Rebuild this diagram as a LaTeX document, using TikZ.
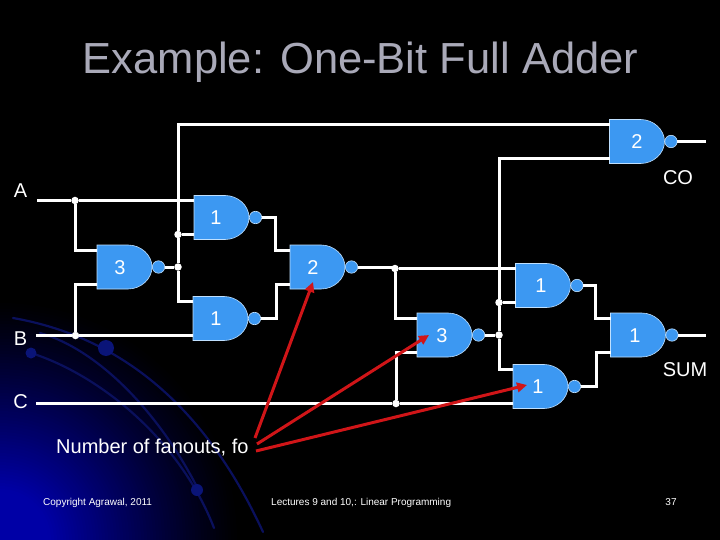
\documentclass[tikz,border=0pt]{standalone}
\usepackage{fontspec}
\setmainfont{Liberation Sans}
\usetikzlibrary{arrows.meta}
\definecolor{gatefill}{HTML}{3C98F2}
\definecolor{gateedge}{HTML}{BFE0FF}
\definecolor{titlegray}{HTML}{A9A9B8}
\definecolor{arcblue}{HTML}{0A105C}
\definecolor{dotblue}{HTML}{0A1478}
\definecolor{redarrow}{HTML}{D01518}
\definecolor{glow}{HTML}{0000A6}
\tikzset{
  wire/.style={draw=white,line width=3pt},
  junction/.style={circle,fill=white,draw=none,minimum size=7.5pt,inner sep=0pt},
  gatebody/.style={fill=gatefill,draw=gateedge,line width=0.6pt},
  gatenum/.style={text=white,font=\fontsize{20}{24}\selectfont,inner sep=0pt},
  sig/.style={text=white,font=\fontsize{20}{24}\selectfont,inner sep=0pt},
  foot/.style={text=white,font=\fontsize{10}{12}\selectfont,inner sep=0pt},
  fanout/.style={draw=redarrow,line width=3pt,-{Triangle[length=10pt,width=9.5pt]}},
  bgarc/.style={draw=arcblue,line width=2.2pt,line cap=round},
}
% name, left x, centre y, label x, label
\newcommand{\nandgate}[5]{%
  \path[gatebody] (#2,#3-22) -- (#2+31,#3-22)
    .. controls (#2+44,#3-22) and (#2+55,#3-12) .. (#2+55,#3)
    .. controls (#2+55,#3+12) and (#2+44,#3+22) .. (#2+31,#3+22)
    -- (#2,#3+22) -- cycle;
  \path[gatebody] (#2+61.5,#3) circle [radius=6.2pt];
  \coordinate (#1-a) at (#2,#3-17);
  \coordinate (#1-b) at (#2,#3+17);
  \coordinate (#1-o) at (#2+67.5,#3);
  \node[gatenum] (#1) at (#4,#3+0.5) {#5};
}
\begin{document}
\begin{tikzpicture}[x=1pt,y=-1pt]
\useasboundingbox (0,0) rectangle (720,540);
\fill[black] (0,0) rectangle (720,540);
\begin{scope}
  \clip (0,0) rectangle (720,540);
  \foreach \r in {240,237,...,3} {
    \pgfmathsetmacro{\p}{100*min(1,(240-\r)/190)^1.15}
    \fill[glow!\p!black] (0,540) circle [radius=\r pt];
  }
  \path[bgarc] (13,318) .. controls (110,335) and (200,395) .. (263,532);
  \path[bgarc] (40,333) .. controls (100,350) and (160,415) .. (197,487);
  \path[bgarc] (31,353) .. controls (100,375) and (180,440) .. (214,528);
  \fill[dotblue] (106,348) circle [radius=8pt];
  \fill[dotblue] (31,353) circle [radius=5.5pt];
  \fill[dotblue] (197,490) circle [radius=6pt];
\end{scope}

\node[text=titlegray,font=\fontsize{43.5}{50}\selectfont,inner sep=0pt,anchor=base] (title) at (360.5,73.5) {Example: One-Bit Full Adder};

\nandgate{g3}{97}{267}{120}{3}
\nandgate{g1t}{194}{217.5}{216}{1}
\nandgate{g1b}{193}{318.5}{216}{1}
\nandgate{g2m}{290}{267}{313}{2}
\nandgate{g2c}{609.5}{141.5}{637}{2}
\nandgate{g1r}{515.5}{285.5}{541}{1}
\nandgate{g3c}{417}{335}{442}{3}
\nandgate{g1l}{513}{386.5}{538}{1}
\nandgate{g1s}{610.5}{335}{635}{1}

\coordinate (Ain) at (37,200.5);
\coordinate (Bin) at (36,335.5);
\coordinate (Cin) at (36,403.5);
\coordinate (COout) at (706,141.5);
\coordinate (SUMout) at (706,335);
\node[junction] (jA) at (75,200.5) {};
\node[junction] (jB) at (75.5,335.5) {};
\node[junction] (jN1) at (178,234.5) {};
\node[junction] (jN2) at (178,267) {};
\node[junction] (jM) at (395,268.5) {};
\node[junction] (jC) at (396,403.5) {};
\node[junction] (jX1) at (499,302.5) {};
\node[junction] (jX2) at (499,335) {};
\coordinate (top) at (178,124.5);
\coordinate (mid) at (499,158.5);

\path[wire] (Ain) -- (jA);
\path[wire] (jA) -- (g1t-a);
\path[wire] (Bin) -- (jB);
\path[wire] (jB) -- (g1b-b);
\path[wire] (jA) |- (g3-a);
\path[wire] (jB) |- (g3-b);
\path[wire] (g3-o) -- (jN2);
\path[wire] (g2c-a) -- (top) -- (jN1);
\path[wire] (jN1) -- (jN2);
\path[wire] (jN2) |- (g1b-a);
\path[wire] (jN1) -- (g1t-b);
\path[wire] (g1t-o) -- ++(14,0) |- (g2m-a);
\path[wire] (g1b-o) -- ++(15.5,0) |- (g2m-b);
\path[wire] (g2m-o) -- (g2m-o -| jM);
\path[wire] (jM) -- (g1r-a);
\path[wire] (jM) |- (g3c-a);
\path[wire] (Cin) -- (jC);
\path[wire] (jC) -- (g1l-b);
\path[wire] (jC) |- (g3c-b);
\path[wire] (g3c-o) -- (jX2);
\path[wire] (g2c-b) -- (mid) -- (jX1);
\path[wire] (jX1) -- (jX2);
\path[wire] (jX2) |- (g1l-a);
\path[wire] (jX1) -- (g1r-b);
\path[wire] (g1r-o) -- ++(12,0) |- (g1s-a);
\path[wire] (g1l-o) -- ++(16,0) |- (g1s-b);
\path[wire] (g2c-o) -- (COout);
\path[wire] (g1s-o) -- (SUMout);

\node[sig] (lA) at (20.5,191) {A};
\node[sig] (lB) at (20.5,339) {B};
\node[sig] (lC) at (20.5,402) {C};
\node[sig] (lCO) at (678,178) {CO};
\node[sig] (lSUM) at (685,369.5) {SUM};
\node[sig,anchor=base west] (fo) at (56,453) {Number of fanouts, fo};

\coordinate (fo1) at (255,438);
\coordinate (fo2) at (257,444);
\coordinate (fo3) at (256,451);
\coordinate (t1) at (313,282);
\coordinate (t2) at (429,335);
\coordinate (t3) at (527,385);
\path[fanout] (fo1) -- (t1);
\path[fanout] (fo2) -- (t2);
\path[fanout] (fo3) -- (t3);

\node[foot,anchor=base west] (cpy) at (43,505) {Copyright Agrawal, 2011};
\node[foot,anchor=base west] (lec) at (271,505) {Lectures 9 and 10,: Linear Programming};
\node[foot,anchor=base] (pg) at (671,505) {37};
\end{tikzpicture}
\end{document}
